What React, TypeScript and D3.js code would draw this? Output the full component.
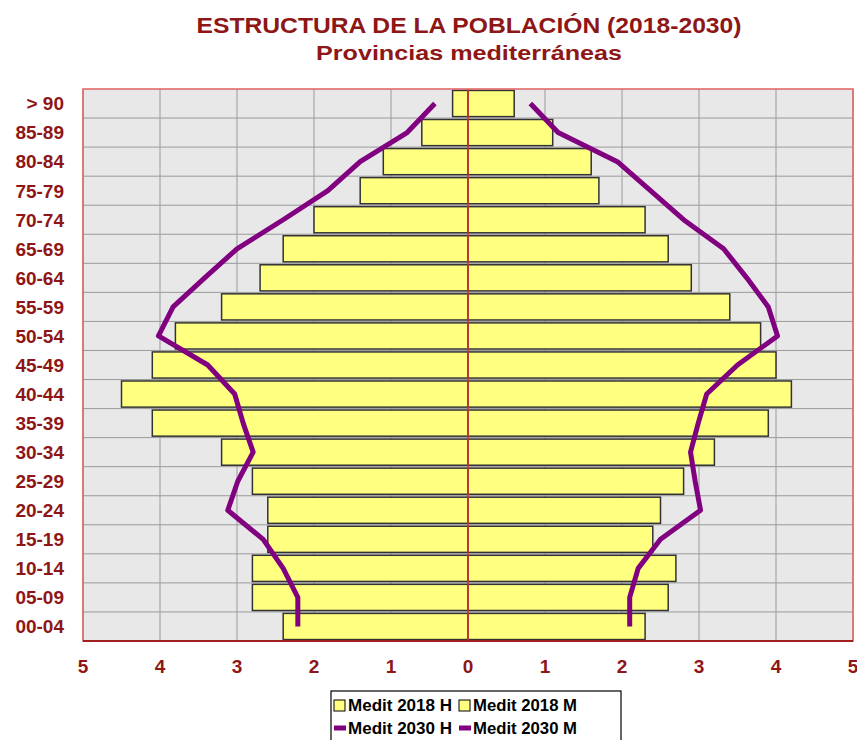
import React, { useEffect, useRef } from "react";
import * as d3 from "d3";

const ageGroups = [
  "> 90", "85-89", "80-84", "75-79", "70-74", "65-69", "60-64", "55-59", "50-54",
  "45-49", "40-44", "35-39", "30-34", "25-29", "20-24", "15-19", "10-14", "05-09", "00-04",
];
const men2018 = [0.2, 0.6, 1.1, 1.4, 2.0, 2.4, 2.7, 3.2, 3.8, 4.1, 4.5, 4.1, 3.2, 2.8, 2.6, 2.6, 2.8, 2.8, 2.4];
const women2018 = [0.6, 1.1, 1.6, 1.7, 2.3, 2.6, 2.9, 3.4, 3.8, 4.0, 4.2, 3.9, 3.2, 2.8, 2.5, 2.4, 2.7, 2.6, 2.3];
const men2030 = [0.43, 0.79, 1.4, 1.82, 2.4, 3.0, 3.42, 3.83, 4.02, 3.38, 3.03, 2.92, 2.79, 2.99, 3.12, 2.66, 2.4, 2.21, 2.21];
const women2030 = [0.81, 1.17, 1.94, 2.37, 2.8, 3.32, 3.62, 3.9, 4.02, 3.5, 3.1, 2.99, 2.89, 2.95, 3.02, 2.5, 2.21, 2.1, 2.1];
const xTicks = [-5, -4, -3, -2, -1, 0, 1, 2, 3, 4, 5];
const legendItems = [
  { label: "Medit 2018 H", kind: "bar" },
  { label: "Medit 2018 M", kind: "bar" },
  { label: "Medit 2030 H", kind: "line" },
  { label: "Medit 2030 M", kind: "line" },
];

const W = 857;
const H = 740;
const TEXT = "#8e1616";
const FONT = "'Liberation Sans', Arial, sans-serif";

export default function App() {
  const svgRef = useRef<SVGSVGElement>(null);

  useEffect(() => {
    const svg = d3.select(svgRef.current);
    svg.selectAll("*").remove();

    const x = d3.scaleLinear().domain([-5, 5]).range([83, 853]);
    const y = d3.scaleBand().domain(ageGroups).range([89, 641]).paddingInner(0.1).paddingOuter(0.05);
    const step = y.step();
    const top = 89, bottom = 641;

    svg.append("rect").attr("width", W).attr("height", H).attr("fill", "#fff");

    // titles
    svg.append("text").attr("x", 469).attr("y", 33).attr("text-anchor", "middle")
      .attr("font-family", FONT).attr("font-weight", "bold").attr("font-size", 22)
      .attr("fill", TEXT).attr("textLength", 545).attr("lengthAdjust", "spacingAndGlyphs")
      .text("ESTRUCTURA DE LA POBLACIÓN (2018-2030)");
    svg.append("text").attr("x", 469).attr("y", 60).attr("text-anchor", "middle")
      .attr("font-family", FONT).attr("font-weight", "bold").attr("font-size", 21)
      .attr("fill", TEXT).attr("textLength", 306).attr("lengthAdjust", "spacingAndGlyphs")
      .text("Provincias mediterráneas");

    // plot background
    svg.append("rect").attr("x", 83).attr("y", top).attr("width", 853 - 83).attr("height", bottom - top)
      .attr("fill", "#e8e8e8");

    // grid
    const g = svg.append("g");
    xTicks.forEach((t) => {
      g.append("line").attr("x1", x(t)).attr("x2", x(t)).attr("y1", top).attr("y2", bottom)
        .attr("stroke", "#9a9a9a").attr("stroke-width", 1);
    });
    ageGroups.forEach((a, i) => {
      if (i === 0) return;
      const yy = (y(a) as number) - (step * 0.1) / 2;
      g.append("line").attr("x1", 83).attr("x2", 853).attr("y1", yy).attr("y2", yy)
        .attr("stroke", "#9a9a9a").attr("stroke-width", 1);
    });

    // bars
    const bars = svg.append("g");
    ageGroups.forEach((a, i) => {
      bars.append("rect").attr("x", x(-men2018[i])).attr("y", y(a) as number)
        .attr("width", x(0) - x(-men2018[i])).attr("height", y.bandwidth())
        .attr("fill", "#ffff80").attr("stroke", "#333").attr("stroke-width", 1.5);
      bars.append("rect").attr("x", x(0)).attr("y", y(a) as number)
        .attr("width", x(women2018[i]) - x(0)).attr("height", y.bandwidth())
        .attr("fill", "#ffff80").attr("stroke", "#333").attr("stroke-width", 1.5);
    });

    // center line
    svg.append("line").attr("x1", x(0)).attr("x2", x(0)).attr("y1", top).attr("y2", bottom)
      .attr("stroke", "#e03030").attr("stroke-width", 1.5);

    // 2030 lines
    const cy = (a: string) => (y(a) as number) + y.bandwidth() / 2;
    const line = d3.line<[number, number]>().x((d) => d[0]).y((d) => d[1]);
    svg.append("path")
      .attr("d", line(ageGroups.map((a, i) => [x(-men2030[i]), cy(a)] as [number, number])))
      .attr("fill", "none").attr("stroke", "#800080").attr("stroke-width", 5).attr("stroke-linejoin", "round");
    svg.append("path")
      .attr("d", line(ageGroups.map((a, i) => [x(women2030[i]), cy(a)] as [number, number])))
      .attr("fill", "none").attr("stroke", "#800080").attr("stroke-width", 5).attr("stroke-linejoin", "round");

    // plot border
    svg.append("rect").attr("x", 83).attr("y", top).attr("width", 853 - 83).attr("height", bottom - top)
      .attr("fill", "none").attr("stroke", "#e06060").attr("stroke-width", 1.5);
    svg.append("line").attr("x1", 83).attr("x2", 853).attr("y1", bottom).attr("y2", bottom)
      .attr("stroke", "#a02020").attr("stroke-width", 2);

    // y labels
    ageGroups.forEach((a) => {
      svg.append("text").attr("x", 64).attr("y", cy(a)).attr("dy", "0.36em").attr("text-anchor", "end")
        .attr("font-family", FONT).attr("font-weight", "bold").attr("font-size", 19).attr("fill", TEXT)
        .text(a);
    });

    // x labels
    xTicks.forEach((t) => {
      svg.append("text").attr("x", x(t)).attr("y", 673).attr("text-anchor", "middle")
        .attr("font-family", FONT).attr("font-weight", "bold").attr("font-size", 19).attr("fill", TEXT)
        .text(Math.abs(t));
    });

    // legend
    const lg = svg.append("g");
    lg.append("rect").attr("x", 331).attr("y", 691).attr("width", 290).attr("height", 52)
      .attr("fill", "#fff").attr("stroke", "#000").attr("stroke-width", 1.2);
    legendItems.forEach((it, i) => {
      const col = i % 2, row = Math.floor(i / 2);
      const lx = 334 + col * 125;
      const ly = 705 + row * 23;
      if (it.kind === "bar") {
        lg.append("rect").attr("x", lx).attr("y", ly - 5).attr("width", 11).attr("height", 11)
          .attr("fill", "#ffff80").attr("stroke", "#000").attr("stroke-width", 1);
      } else {
        lg.append("line").attr("x1", lx).attr("x2", lx + 12).attr("y1", ly).attr("y2", ly)
          .attr("stroke", "#800080").attr("stroke-width", 5);
      }
      lg.append("text").attr("x", lx + 14).attr("y", ly).attr("dy", "0.36em")
        .attr("font-family", FONT).attr("font-weight", "bold").attr("font-size", 16).attr("fill", "#000")
        .attr("textLength", 104).attr("lengthAdjust", "spacingAndGlyphs")
        .text(it.label);
    });
  }, []);

  return (
    <svg ref={svgRef} width={W} height={H} style={{ position: "absolute", left: 0, top: 0 }} />
  );
}
